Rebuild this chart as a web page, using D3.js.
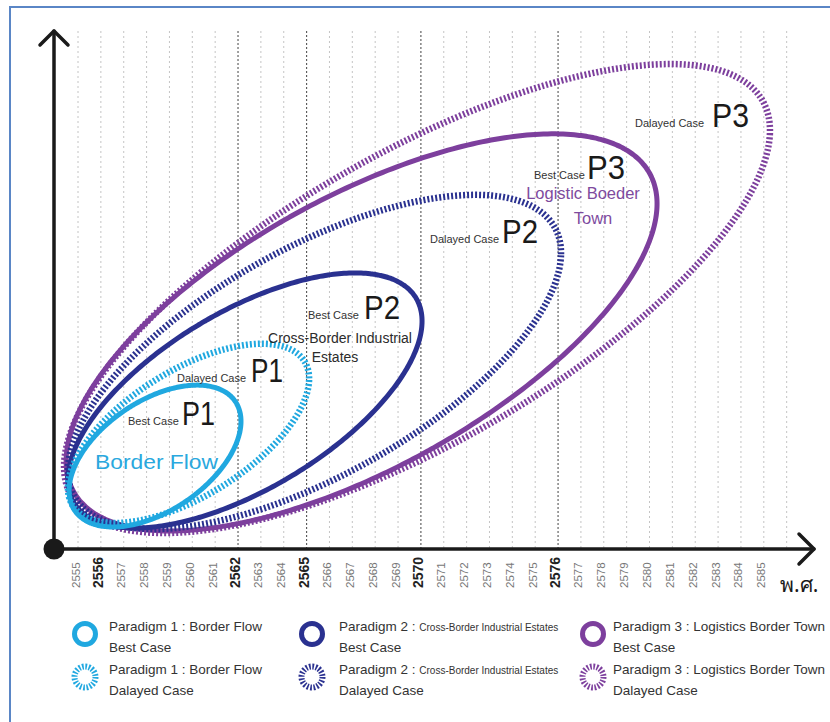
<!DOCTYPE html>
<html>
<head>
<meta charset="utf-8">
<script src="https://cdn.jsdelivr.net/npm/d3@7"></script>
<style>
  html, body { margin: 0; padding: 0; background: #fff; }
  svg { display: block; font-family: "Liberation Sans", Arial, sans-serif; }
</style>
</head>
<body>
<svg id="chart" width="830" height="722"></svg>
<script>
// ---------------- data ----------------
const tickYears = [2555, 2556, 2557, 2558, 2559, 2560, 2561, 2562, 2563, 2564, 2565, 2566, 2567, 2568, 2569, 2570,
                   2571, 2572, 2573, 2574, 2575, 2576, 2577, 2578, 2579, 2580, 2581, 2582, 2583, 2584, 2585];
const gridYears = tickYears.concat([2586]);
const majorYears = [2556, 2562, 2565, 2570, 2576];
const darkGridYears = [2562, 2565, 2570, 2576];

const scenarioNames = ["P1 Best Case", "P1 Dalayed Case", "P2 Best Case", "P2 Dalayed Case", "P3 Best Case", "P3 Dalayed Case"];
const paradigmOf    = [1, 1, 2, 2, 3, 3];
const delayed       = [false, true, false, true, false, true];
const startYears    = [2554.61, 2554.56, 2554.56, 2554.56, 2554.48, 2554.39];
const endYears      = [2562.13, 2565.11, 2570.05, 2576.13, 2580.33, 2585.27];
const peakYears     = [2560.21, 2563.05, 2567.12, 2572.37, 2575.78, 2580.90];
const topLevels     = [31.7, 39.7, 53.4, 68.5, 80.3, 93.8];
const bottomLevels  = [4.26, 5.03, 4.06, 3.87, 3.48, 3.09];

const legendTitles = ["Paradigm 1 : ", "Paradigm 2 : ", "Paradigm 3 : "];
const legendSubtitles = ["Border Flow", "Cross-Border Industrial Estates", "Logistics Border Town"];
const caseNames = ["Best Case", "Dalayed Case"];

// ---------------- styles ----------------
const colors = {1: "#20a8e0", 2: "#2a3190", 3: "#7d3f9d"};

const svg = d3.select("#chart");

// outer frame
svg.append("rect").attr("x", 10).attr("y", 7).attr("width", 840).attr("height", 730)
  .attr("fill", "#fff").attr("stroke", "#5a86c6").attr("stroke-width", 2);

const xScale = d3.scaleLinear().domain([2555, 2585]).range([78, 763.8]);
const yScale = d3.scaleLinear().domain([0, 100]).range([549, 32]);

// grid lines
svg.append("g").selectAll("line").data(gridYears).join("line")
  .attr("x1", d => xScale(d)).attr("x2", d => xScale(d))
  .attr("y1", yScale(100) - 1).attr("y2", yScale(0))
  .attr("stroke", d => darkGridYears.includes(d) ? "#555" : "#c4c4c4")
  .attr("stroke-width", d => darkGridYears.includes(d) ? 1.1 : 1)
  .attr("stroke-dasharray", d => darkGridYears.includes(d) ? "2,2" : "2,3");

// ellipses
function ellipsePoints(i) {
  const xL = xScale(startYears[i]), xR = xScale(endYears[i]);
  const yT = yScale(topLevels[i]), yB = yScale(bottomLevels[i]);
  const xP = xScale(peakYears[i]);
  const cx = (xL + xR) / 2, cy = (yT + yB) / 2;
  const W = (xR - xL) / 2, H = (yB - yT) / 2;
  const mxy = -(xP - cx) * H;
  const A = mxy / W;
  const B = Math.sqrt(Math.max(H * H - A * A, 1));
  return d3.range(0, 360, 1).map(deg => {
    const t = deg * Math.PI / 180;
    return [cx + W * Math.cos(t), cy + A * Math.cos(t) + B * Math.sin(t)];
  });
}
const lineGen = d3.line().curve(d3.curveCardinalClosed);
const order = [5, 4, 3, 2, 1, 0];
svg.append("g").selectAll("path").data(order).join("path")
  .attr("d", i => lineGen(ellipsePoints(i)))
  .attr("fill", "none")
  .attr("stroke", i => colors[paradigmOf[i]])
  .attr("stroke-width", i => delayed[i] ? 6.5 : 5)
  .attr("stroke-dasharray", i => delayed[i] ? "2,2" : null);

// annotations
const ann = svg.append("g");
function caseLabel(smallText, sx, bigText, bx, base, bigW) {
  ann.append("text").attr("x", sx).attr("y", base).attr("font-size", 11).attr("fill", "#333").text(smallText);
  ann.append("text").attr("x", bx).attr("y", base).attr("font-size", 33).attr("fill", "#1a1a1a")
    .attr("textLength", bigW).attr("lengthAdjust", "spacingAndGlyphs").text(bigText);
}
caseLabel("Best Case", 128, "P1", 182, 425, 33);
caseLabel("Dalayed Case", 177, "P1", 251, 382, 32);
caseLabel("Best Case", 308, "P2", 364, 319, 36);
caseLabel("Dalayed Case", 430, "P2", 502, 243, 36);
caseLabel("Best Case", 534, "P3", 587, 179, 38);
caseLabel("Dalayed Case", 635, "P3", 712, 127, 37);

ann.append("text").attr("x", 95).attr("y", 469).attr("font-size", 21).attr("fill", "#2aa8de")
  .attr("textLength", 123).attr("lengthAdjust", "spacingAndGlyphs").text("Border Flow");
ann.append("text").attr("x", 340).attr("y", 343).attr("font-size", 14).attr("fill", "#2b2b2b")
  .attr("text-anchor", "middle").text("Cross-Border Industrial");
ann.append("text").attr("x", 335).attr("y", 362).attr("font-size", 14).attr("fill", "#2b2b2b")
  .attr("text-anchor", "middle").text("Estates");
ann.append("text").attr("x", 583).attr("y", 199).attr("font-size", 16.5).attr("fill", "#7e4a9e")
  .attr("text-anchor", "middle").text("Logistic Boeder");
ann.append("text").attr("x", 593).attr("y", 224).attr("font-size", 16.5).attr("fill", "#7e4a9e")
  .attr("text-anchor", "middle").text("Town");

// x axis tick labels via d3 axis
const axisG = svg.append("g").attr("transform", `translate(0,${yScale(0)})`)
  .call(d3.axisBottom(xScale).tickValues(tickYears).tickSize(0).tickFormat(d3.format("d")));
axisG.select(".domain").remove();
axisG.selectAll("text")
  .attr("transform", "rotate(-90)")
  .attr("x", -39).attr("y", -3).attr("dy", "0.35em")
  .attr("text-anchor", "start")
  .attr("font-family", "'Liberation Sans', Arial, sans-serif")
  .attr("font-size", d => majorYears.includes(d) ? 14 : 11.5)
  .attr("font-weight", d => majorYears.includes(d) ? "bold" : "normal")
  .attr("fill", d => majorYears.includes(d) ? "#222" : "#777");

// axes lines with arrows
const ax = svg.append("g").attr("stroke", "#1a1a1a").attr("stroke-width", 3.5)
  .attr("fill", "none").attr("stroke-linecap", "round").attr("stroke-linejoin", "round");
const x0 = 54, y0 = yScale(0);
ax.append("line").attr("x1", x0).attr("y1", y0).attr("x2", x0).attr("y2", 31);
ax.append("polyline").attr("points", `${x0 - 14},45 ${x0},31 ${x0 + 14},45`);
ax.append("line").attr("x1", x0).attr("y1", y0).attr("x2", 814).attr("y2", y0);
ax.append("polyline").attr("points", `799,534 814,${y0} 799,564`);
svg.append("circle").attr("cx", x0).attr("cy", y0).attr("r", 10.5).attr("fill", "#1a1a1a");

svg.append("text").attr("x", 780).attr("y", 592).attr("font-size", 21).attr("fill", "#1a1a1a")
  .attr("font-family", "'Noto Sans', 'DejaVu Sans', sans-serif").text("พ.ศ.");

// legend
const legendX = [85, 312, 593];
const legendTextX = [109, 339, 613];
const legendRowY = [634, 677];
const leg = svg.append("g");
[0, 1, 2].forEach(c => {
  [0, 1].forEach(r => {
    leg.append("circle").attr("cx", legendX[c]).attr("cy", legendRowY[r]).attr("r", 10.5)
      .attr("fill", "none").attr("stroke", colors[c + 1])
      .attr("stroke-width", r === 0 ? 5 : 6)
      .attr("stroke-dasharray", r === 0 ? null : "1.7,1.6");
    const t = leg.append("text").attr("x", legendTextX[c]).attr("y", legendRowY[r] - 3)
      .attr("font-size", 13.5).attr("fill", "#333");
    t.append("tspan").text(legendTitles[c]);
    t.append("tspan").attr("font-size", c === 1 ? 10 : 13.5).text(legendSubtitles[c]);
    leg.append("text").attr("x", legendTextX[c]).attr("y", legendRowY[r] + 18)
      .attr("font-size", 13.5).attr("fill", "#333").text(caseNames[r]);
  });
});
</script>
</body>
</html>
